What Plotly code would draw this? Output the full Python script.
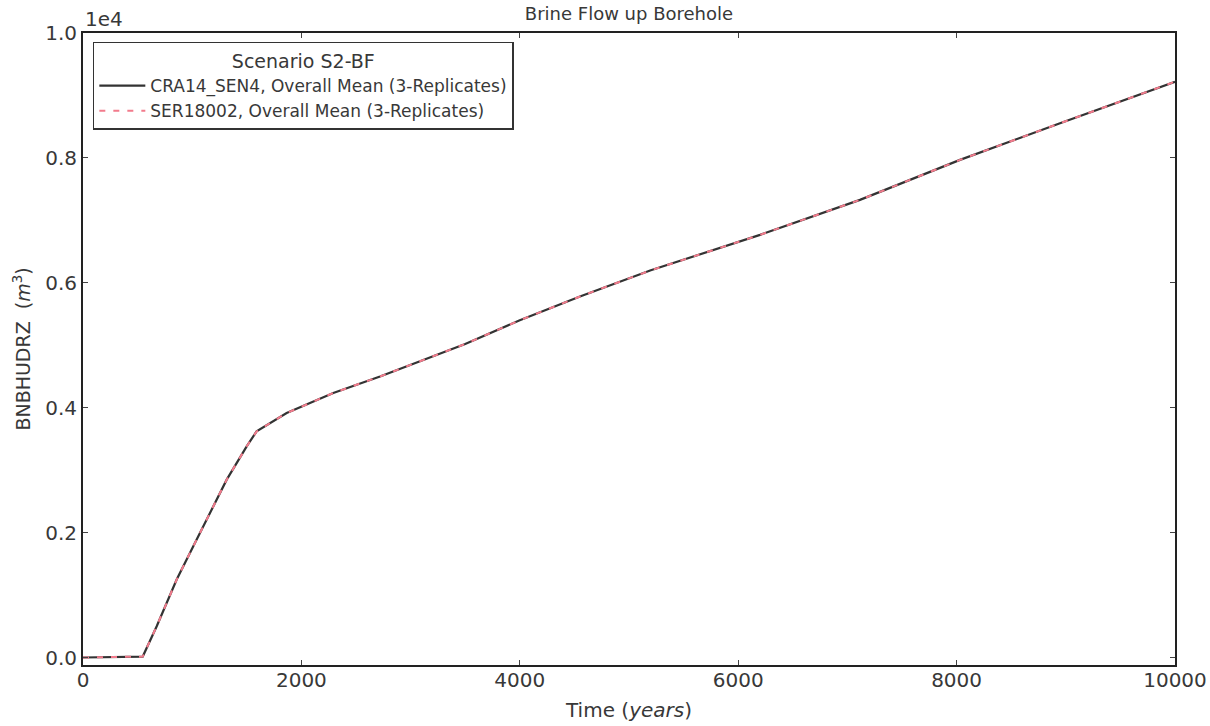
import plotly.graph_objects as go

# Data (Time in years, BNBHUDRZ in m^3)
time_years = [0, 300, 547, 675, 858, 1010, 1316, 1499, 1590, 1865, 2292, 2720,
              3500, 4000, 4551, 5200, 6200, 7115, 8031, 8947, 10000]
cra14_sen4 = [0, 5, 15, 501, 1248, 1781, 2848, 3381, 3621, 3915, 4235, 4500,
              5020, 5400, 5781, 6200, 6768, 7328, 7968, 8555, 9220]
ser18002 = list(cra14_sen4)

x_ticks = [0, 2000, 4000, 6000, 8000, 10000]
x_tick_labels = ["0", "2000", "4000", "6000", "8000", "10000"]
y_ticks = [0, 2000, 4000, 6000, 8000, 10000]
y_tick_labels = ["0.0", "0.2", "0.4", "0.6", "0.8", "1.0"]

font_family = "DejaVu Sans, Verdana, sans-serif"
text_color = "#383838"

fig = go.Figure()
fig.add_trace(go.Scatter(
    x=time_years, y=cra14_sen4, mode="lines",
    name="CRA14_SEN4, Overall Mean (3-Replicates)",
    line=dict(color="#333333", width=2.2),
))
fig.add_trace(go.Scatter(
    x=time_years, y=ser18002, mode="lines",
    name="SER18002, Overall Mean (3-Replicates)",
    line=dict(color="#f27b8c", width=2, dash="6px,8px"),
))

axis_common = dict(
    showline=True, linecolor="#222222", linewidth=1.8, mirror="ticks",
    ticks="inside", ticklen=5, tickwidth=1, tickcolor="#444444",
    showgrid=False, zeroline=False, automargin=False,
    tickfont=dict(family=font_family, size=20, color=text_color),
)

fig.update_layout(
    width=1210, height=726,
    margin=dict(l=83, r=35, t=33, b=61),
    paper_bgcolor="white", plot_bgcolor="white",
    font=dict(family=font_family, color=text_color),
    title=dict(text="Brine Flow up Borehole", x=(83 + 1175) / 2 / 1210, xanchor="center",
               y=1 - 14 / 726, yanchor="middle",
               font=dict(family=font_family, size=18, color=text_color)),
    xaxis=dict(range=[0, 10000], tickvals=x_ticks, ticktext=x_tick_labels,
               ticklabelstandoff=-4,
               title=dict(text="Time (<i>years</i>)", standoff=12,
                          font=dict(family=font_family, size=20, color=text_color)),
               **axis_common),
    yaxis=dict(range=[-120, 10000], tickvals=y_ticks, ticktext=y_tick_labels,
               title=dict(text="BNBHUDRZ  (<i>m</i><sup>3</sup>)", standoff=10,
                          font=dict(family=font_family, size=19, color=text_color)),
               **axis_common),
    legend=dict(
        x=0.009, y=0.986, xanchor="left", yanchor="top",
        bgcolor="white", bordercolor="#333333", borderwidth=1.5,
        font=dict(family=font_family, size=17, color=text_color),
        title=dict(text="Scenario S2-BF", side="top center",
                   font=dict(family=font_family, size=19, color=text_color)),
        itemwidth=46, tracegroupgap=0,
    ),
    showlegend=True,
)

fig.add_annotation(text="1e4", xref="paper", yref="paper", x=0.0, y=1.0,
                   xanchor="left", yanchor="bottom", showarrow=False, xshift=0, yshift=0,
                   font=dict(family=font_family, size=20, color=text_color))

fig.write_html("out.html")
